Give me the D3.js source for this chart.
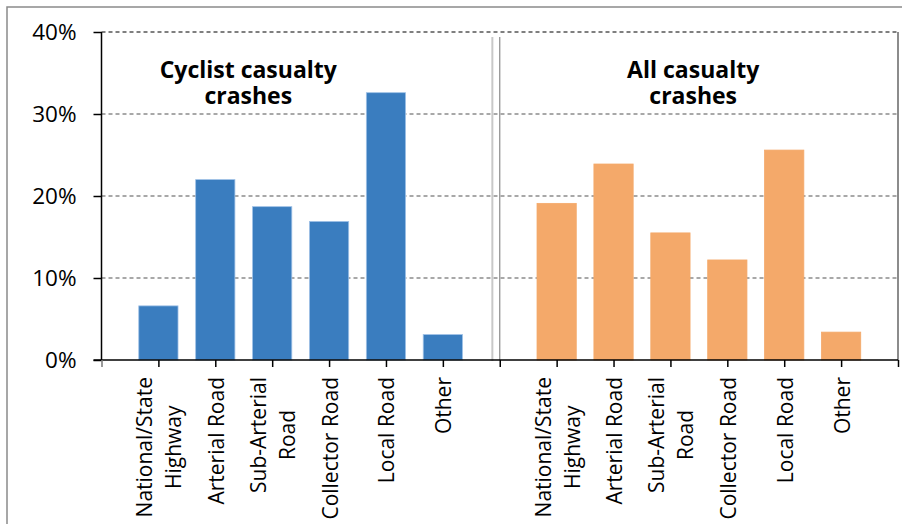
<!DOCTYPE html>
<html>
<head>
  <meta charset="utf-8">
  <title>Casualty crashes by road type</title>
  <script src="https://d3js.org/d3.v7.min.js"></script>
  <style>
    body { margin: 0; background: #fff; }
    text { font-family: "Open Sans", sans-serif; fill: #000; }
  </style>
</head>
<body>
<div id="chart"></div>
<script>
// categories, repeated for both panels
var roadTypes = ["National/State\nHighway", "Arterial Road", "Sub-Arterial\nRoad",
                 "Collector Road", "Local Road", "Other"];
var cyclistPct = [6.6, 22.0, 18.7, 16.9, 32.6, 3.1];
var allPct = [19.1, 23.9, 15.5, 12.2, 25.6, 3.4];
var yTicks = [0, 10, 20, 30, 40];
var panelTitles = ["Cyclist casualty\ncrashes", "All casualty\ncrashes"];

var W = 902, H = 524;
var pLeft = 101.5, pRight = 898, pTop = 32, pBottom = 360;

var svg = d3.select("#chart").append("svg")
    .attr("width", W).attr("height", H);

// outer frame
svg.append("rect")
    .attr("x", 7).attr("y", 7).attr("width", 1000).attr("height", 1000)
    .attr("fill", "none").attr("stroke", "#8a8a8a").attr("stroke-width", 1.5);

// slot 0 = axis, 1-6 cyclist, 7 = divider, 8-13 all, 14 = end
var x = d3.scaleLinear().domain([0, 14]).range([pLeft, pRight]);
var y = d3.scaleLinear().domain([0, 40]).range([pBottom, pTop]);

var bars = [];
cyclistPct.forEach(function(v, i) { bars.push({slot: i + 1, v: v, c: "#3a7dbf", s: "#9fc1e6"}); });
allPct.forEach(function(v, i) { bars.push({slot: i + 8, v: v, c: "#f4a96a", s: "#f4a96a"}); });

// gridlines
svg.append("g").selectAll("line")
  .data(yTicks.filter(function(d) { return d > 0; }))
  .enter().append("line")
    .attr("x1", pLeft).attr("x2", pRight)
    .attr("y1", function(d) { return y(d); }).attr("y2", function(d) { return y(d); })
    .attr("stroke", function(d) { return d == 40 ? "#555" : "#8c8c8c"; })
    .attr("stroke-width", 1.5)
    .attr("stroke-dasharray", "4,3");

// right border
svg.append("line")
    .attr("x1", pRight).attr("x2", pRight).attr("y1", y(40)).attr("y2", y(0))
    .attr("stroke", "#666").attr("stroke-width", 1.5);

// divider between the panels
svg.append("line")
    .attr("x1", x(6.87)).attr("x2", x(6.87)).attr("y1", 37).attr("y2", y(0) + 1)
    .attr("stroke", "#c8c8c8").attr("stroke-width", 2);
svg.append("line")
    .attr("x1", x(7)).attr("x2", x(7)).attr("y1", 37).attr("y2", y(0))
    .attr("stroke", "#8a8a8a").attr("stroke-width", 1.2);

// bars
var bw = (x(1) - x(0)) * 0.69;
svg.append("g").selectAll("rect")
  .data(bars)
  .enter().append("rect")
    .attr("x", function(d) { return x(d.slot) - bw / 2; })
    .attr("y", function(d) { return y(d.v); })
    .attr("width", bw)
    .attr("height", function(d) { return y(0) - y(d.v); })
    .attr("fill", function(d) { return d.c; })
    .attr("stroke", function(d) { return d.s; })
    .attr("stroke-width", 0.8);

// y axis
var yAxis = svg.append("g")
    .attr("transform", "translate(" + pLeft + ",0)")
    .call(d3.axisLeft(y).tickValues(yTicks).tickSize(8).tickPadding(17)
      .tickFormat(function(d) { return d + "%"; }));
yAxis.select(".domain").attr("stroke", "#000").attr("stroke-width", 1.5).attr("d", "M0," + pTop + "V" + pBottom);
yAxis.selectAll(".tick line").attr("stroke", "#000").attr("stroke-width", 1.5);
yAxis.selectAll("text").style("font-size", "22.5px").attr("fill", "#000");

// x axis
var labels = [""].concat(roadTypes, [""], roadTypes, [""]);
var xAxis = svg.append("g")
    .attr("transform", "translate(0," + pBottom + ")")
    .call(d3.axisBottom(x).tickValues(d3.range(15)).tickSize(7).tickFormat(""));
xAxis.select(".domain").attr("stroke", "#000").attr("stroke-width", 1.5).attr("d", "M" + (pLeft - 8) + ",0H" + pRight);
xAxis.selectAll(".tick line").attr("stroke", function(d) { return d == 0 ? "#777" : "#000"; })
    .attr("stroke-width", 1.5);

var lh = 29, gap = 17;
xAxis.selectAll(".tick").each(function(d) {
  var lines = labels[d].split("\n");
  if (!labels[d]) return;
  var t = d3.select(this).append("text")
      .attr("transform", "rotate(-90)")
      .attr("text-anchor", "middle")
      .attr("dominant-baseline", "central")
      .style("font-size", "21px");
  var spans = lines.map(function(s, k) {
    return t.append("tspan").attr("x", 0).attr("y", (k - (lines.length - 1) / 2) * lh).text(s);
  });
  var L = d3.max(spans, function(s) { return s.node().getComputedTextLength(); });
  spans.forEach(function(s) { s.attr("x", -(gap + L / 2)); });
});

// panel titles
var titleSlots = [2.58, 10.4];
panelTitles.forEach(function(tt, i) {
  var t = svg.append("text")
      .attr("text-anchor", "middle")
      .style("font-size", "23px").style("font-weight", "bold");
  tt.split("\n").forEach(function(s, k) {
    t.append("tspan").attr("x", x(titleSlots[i])).attr("y", 78 + k * 26).text(s);
  });
});
</script>
</body>
</html>
